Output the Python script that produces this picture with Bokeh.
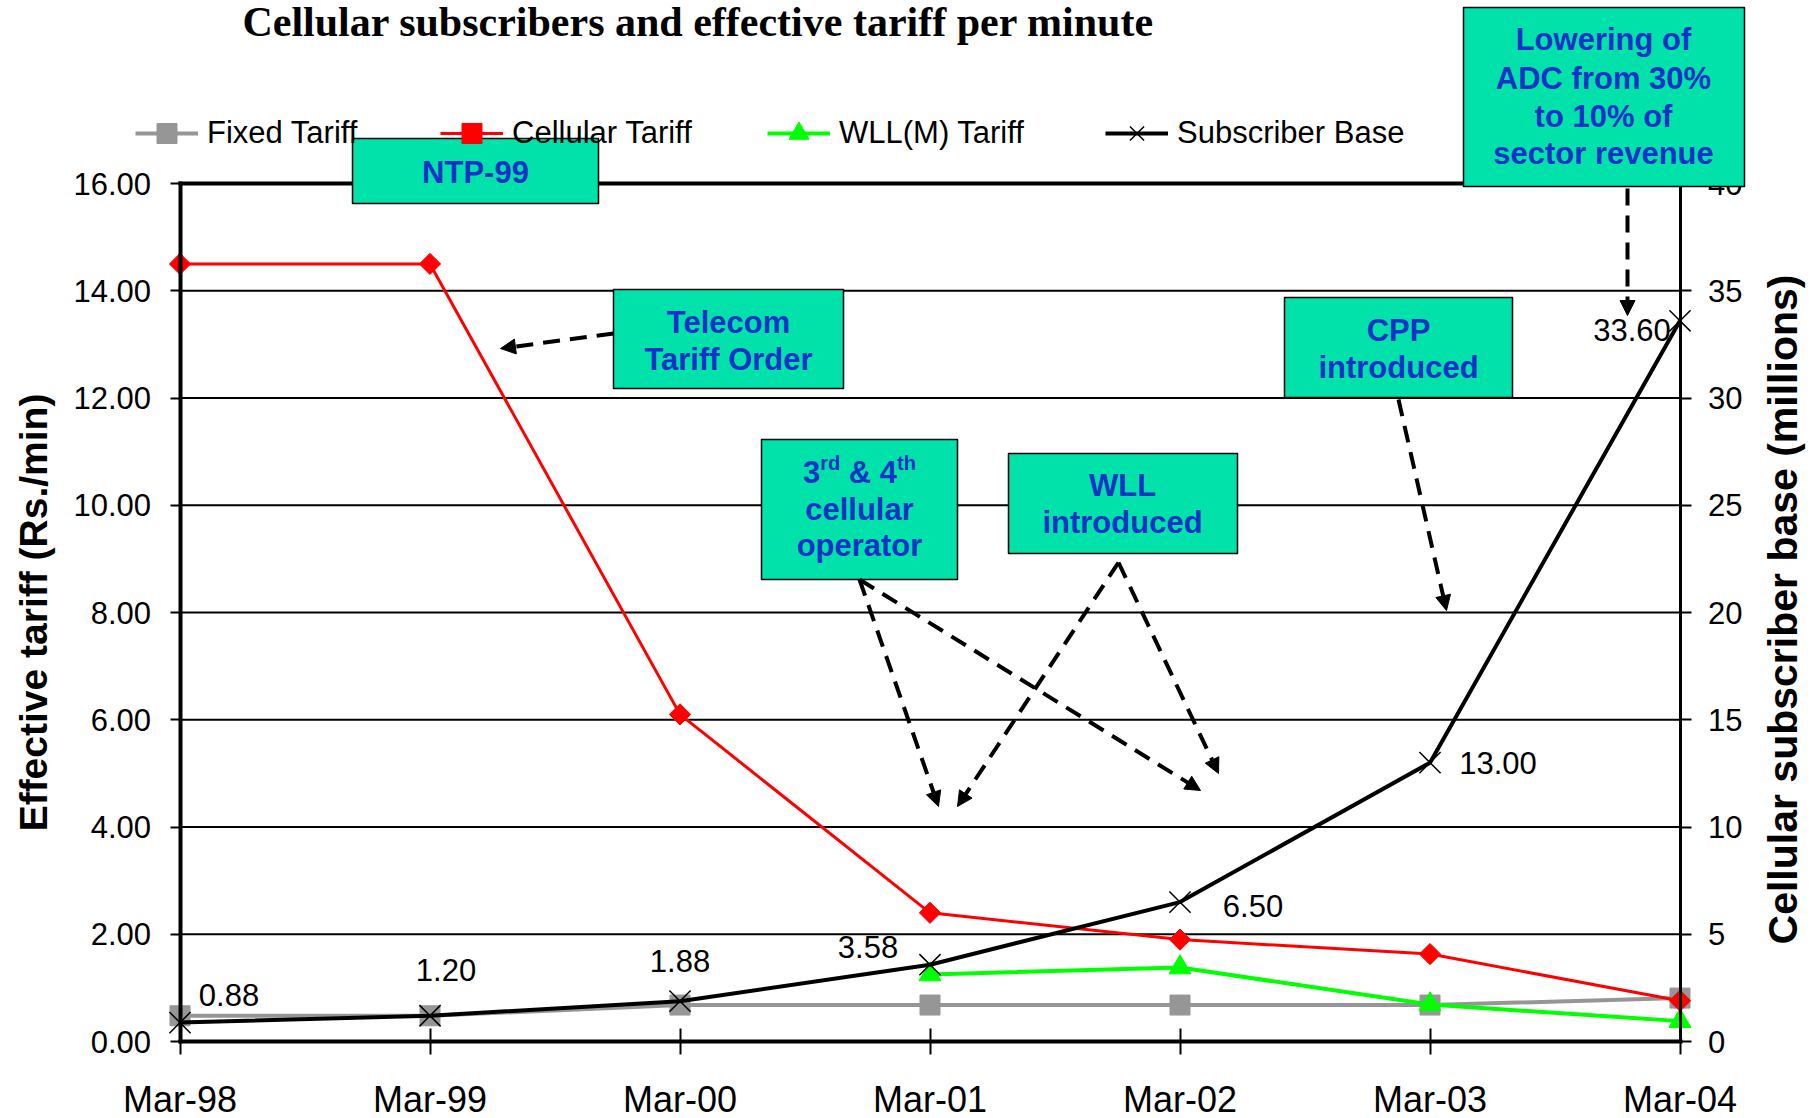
import math
from bokeh.plotting import figure
from bokeh.models import (Range1d, LinearAxis, FixedTicker, NumeralTickFormatter, Legend,
                          LegendItem, BoxAnnotation, Label, Arrow, NormalHead)
from bokeh.core.properties import value
from bokeh.embed import file_html
from bokeh.resources import INLINE

# ---------------- data ----------------
categories = ["Mar-98", "Mar-99", "Mar-00", "Mar-01", "Mar-02", "Mar-03", "Mar-04"]
fixed_tariff = [0.48, 0.48, 0.68, 0.68, 0.68, 0.68, 0.81]
cellular_tariff = [14.5, 14.5, 6.1, 2.4, 1.9, 1.63, 0.76]
wll_categories = ["Mar-01", "Mar-02", "Mar-03", "Mar-04"]
wll_tariff = [1.25, 1.38, 0.69, 0.38]
subscriber_base = [0.88, 1.20, 1.88, 3.58, 6.50, 13.00, 33.60]
subscriber_labels = ["0.88", "1.20", "1.88", "3.58", "6.50", "13.00", "33.60"]
left_ticks = [0, 2, 4, 6, 8, 10, 12, 14, 16]
right_ticks = [0, 5, 10, 15, 20, 25, 30, 35, 40]

# ---------------- layout helpers (pixel -> data) ----------------
W, H = 1815, 1118
X0PX, XSTEP = 179.5, 250.0        # pixel of first category, pixels per category
Y0PX, YSTEP = 1041.0, 53.625      # pixel of tariff 0, pixels per tariff unit
RIGHT_FACTOR = right_ticks[-1] / left_ticks[-1]
def xd(px):
    return (px - X0PX) / XSTEP
def yd(py):
    return (Y0PX - py) / YSTEP
def base_y(py, fs):
    # label y so that the rendered alphabetic baseline lands on pixel row py
    return yd(py - 0.36 * fs)

xpos = list(range(len(categories)))
wll_pos = [categories.index(c) for c in wll_categories]
x_first, x_last = xpos[0], xpos[-1]

FONT = "Liberation Sans"
TEAL = "#00E2A9"
BLUE = "#1432C8"

p = figure(width=W, height=H, output_backend="svg", toolbar_location=None, title=None,
           x_range=Range1d(xd(0), xd(W)), y_range=Range1d(yd(H), yd(0)),
           x_axis_location=None, y_axis_location=None,
           min_border_left=0, min_border_right=0, min_border_top=0, min_border_bottom=0,
           background_fill_color="white", border_fill_color="white", outline_line_color=None)
p.xgrid.visible = False
p.ygrid.visible = False
p.extra_y_ranges = {"right": Range1d(yd(H) * RIGHT_FACTOR, yd(0) * RIGHT_FACTOR)}

# axes (all drawn at fixed data locations inside the frame)
yl = LinearAxis(fixed_location=x_first, ticker=FixedTicker(ticks=left_ticks),
                bounds=(left_ticks[0], left_ticks[-1]),
                formatter=NumeralTickFormatter(format="0.00"),
                axis_line_width=4, axis_line_cap="square", major_tick_out=10, major_tick_in=0,
                major_tick_line_width=2, minor_tick_out=0, minor_tick_in=0,
                major_label_standoff=19, major_label_text_font=FONT,
                major_label_text_font_size="31px", major_label_text_color="black")
p.add_layout(yl, "left")

yr = LinearAxis(y_range_name="right", fixed_location=x_last, ticker=FixedTicker(ticks=right_ticks),
                bounds=(right_ticks[0], right_ticks[-1]),
                formatter=NumeralTickFormatter(format="0"),
                axis_line_width=3, axis_line_cap="square", major_tick_out=11, major_tick_in=0,
                major_tick_line_width=2, minor_tick_out=0, minor_tick_in=0,
                major_label_standoff=17, major_label_text_font=FONT,
                major_label_text_font_size="31px", major_label_text_color="black")
p.add_layout(yr, "right")

xb = LinearAxis(fixed_location=left_ticks[0], ticker=FixedTicker(ticks=xpos),
                major_label_overrides={i: c for i, c in enumerate(categories)},
                bounds=(x_first, x_last), axis_line_width=4, axis_line_cap="square",
                major_tick_in=13, major_tick_out=13, major_tick_line_width=2,
                minor_tick_out=0, minor_tick_in=0, major_label_standoff=24,
                major_label_text_font=FONT, major_label_text_font_size="36px",
                major_label_text_color="black")
p.add_layout(xb, "below")

xt = LinearAxis(fixed_location=left_ticks[-1], ticker=FixedTicker(ticks=[]),
                bounds=(x_first, x_last), axis_line_width=4,
                axis_line_cap="square", major_tick_out=0, major_tick_in=0,
                minor_tick_out=0, minor_tick_in=0, major_label_text_font_size="0px")
p.add_layout(xt, "above")

# horizontal grid lines between the two axes
grid_vals = left_ticks[1:-1]
p.segment(x0=[x_first] * len(grid_vals), x1=[x_last] * len(grid_vals), y0=grid_vals, y1=grid_vals,
          line_color="black", line_width=2)

# series
r_fixed_l = p.line(xpos, fixed_tariff, line_color="#969696", line_width=4)
r_fixed_m = p.scatter(xpos, fixed_tariff, marker="square", size=20,
                      fill_color="#969696", line_color="#969696")
r_wll_l = p.line(wll_pos, wll_tariff, line_color="#00FF00", line_width=4)
r_wll_m = p.scatter(wll_pos, wll_tariff, marker="triangle", size=22,
                    fill_color="#00FF00", line_color="#00FF00")
r_cell_l = p.line(xpos, cellular_tariff, line_color="#FF0000", line_width=3)
r_cell_m = p.scatter(xpos, cellular_tariff, marker="square", angle=math.pi / 4, size=15,
                     fill_color="#FF0000", line_color="#FF0000")
r_sub_l = p.line(xpos, subscriber_base, y_range_name="right", line_color="black", line_width=4)
r_sub_m = p.scatter(xpos, subscriber_base, y_range_name="right", marker="x", size=30,
                    line_color="black", line_width=1.5)

# data labels for subscriber base
label_dx = [49, 16, 0, -62, 73, 68, -48]
label_dy = [-28, -46, -40, -18, 4, 0, 9]
p.text(x=xpos, y=subscriber_base, text=subscriber_labels, y_range_name="right",
       x_offset=label_dx, y_offset=label_dy, text_align="center", text_baseline="middle",
       text_font=value(FONT), text_font_size="31px", text_color="black")

# legends (one per item so each sits at its own place)
legend_specs = [("Fixed Tariff", [r_fixed_l, r_fixed_m], 135),
                ("Cellular Tariff", [r_cell_l, r_cell_m], 440),
                ("WLL(M) Tariff", [r_wll_l, r_wll_m], 767),
                ("Subscriber Base", [r_sub_l, r_sub_m], 1105)]
legend_center_y = 133
for lab, rends, gx in legend_specs:
    lg = Legend(items=[LegendItem(label=lab, renderers=rends)],
                location=(gx, H - legend_center_y - 25),
                orientation="horizontal", padding=0, margin=0, spacing=0,
                glyph_width=63, glyph_height=50, label_height=50, label_standoff=9,
                label_text_font=FONT, label_text_font_size="31px", label_text_color="black",
                border_line_alpha=0, background_fill_alpha=0)
    p.add_layout(lg)

# annotation boxes: (left, top, right, bottom) in pixels, centre x, [(text, baseline)]
BOX_FS = 31
boxes = [
    ((352, 138, 598, 203), 475, [("NTP-99", 183)]),
    ((613, 289, 843, 388), 728, [("Telecom", 333), ("Tariff Order", 370)]),
    ((761, 439, 957, 579), 859, [("cellular", 520), ("operator", 556)]),
    ((1008, 453, 1237, 553), 1122, [("WLL", 496), ("introduced", 533)]),
    ((1284, 297, 1512, 397), 1398, [("CPP", 341), ("introduced", 378)]),
    ((1463, 7, 1744, 186), 1603, [("Lowering of", 50), ("ADC from 30%", 89),
                                  ("to 10% of", 127), ("sector revenue", 164)]),
]
for (l, t, r, b), cx, lines in boxes:
    p.add_layout(BoxAnnotation(left=xd(l), right=xd(r), top=yd(t), bottom=yd(b),
                               fill_color=TEAL, fill_alpha=1.0,
                               line_color="black", line_width=1.5, line_alpha=1.0))
    for txt, base in lines:
        p.add_layout(Label(x=xd(cx), y=base_y(base, BOX_FS), text=txt, text_align="center",
                           text_baseline="alphabetic", text_font=FONT,
                           text_font_style="bold", text_font_size=f"{BOX_FS}px", text_color=BLUE))

# "3rd & 4th" with superscripts, each piece placed separately
sup_parts = [("3", 31, 0, 0.556), ("rd", 20, -13, 1.0), ("", 31, 0, 0.278),
             ("&", 31, 0, 0.722), ("", 31, 0, 0.278), ("4", 31, 0, 0.556), ("th", 20, -13, 0.944)]
total = sum(em * fs for _, fs, _, em in sup_parts)
cur = 859 - total / 2
for t, fs, lift, em in sup_parts:
    if t:
        p.add_layout(Label(x=xd(cur), y=base_y(483 + lift, fs), text=t, text_align="left",
                           text_baseline="alphabetic", text_font=FONT, text_font_style="bold",
                           text_font_size=f"{fs}px", text_color=BLUE))
    cur += em * fs

# dashed arrows (pixel start -> pixel end)
arrows = [
    ((613, 333), (500, 348)),
    ((859, 579), (938, 806)),
    ((859, 579), (1200, 790)),
    ((1118, 562), (957, 806)),
    ((1118, 562), (1218, 773)),
    ((1398, 399), (1446, 610)),
    ((1627, 188), (1627, 315)),
]
for (sx, sy), (ex, ey) in arrows:
    p.add_layout(Arrow(x_start=xd(sx), y_start=yd(sy), x_end=xd(ex), y_end=yd(ey),
                       line_color="black", line_width=4, line_dash="17 10",
                       end=NormalHead(size=15, fill_color="black", line_color="black",
                                      line_width=1)))

# titles
p.add_layout(Label(x=xd(698), y=base_y(37, 42), text="Cellular subscribers and effective tariff per minute",
                   text_align="center", text_baseline="alphabetic", text_font="Liberation Serif",
                   text_font_style="bold", text_font_size="42px", text_color="black"))
p.add_layout(Label(x=xd(33), y=yd(612), text="Effective tariff (Rs./min)", angle=math.pi / 2,
                   text_align="center", text_baseline="middle", text_font=FONT,
                   text_font_style="bold", text_font_size="39px", text_color="black"))
p.add_layout(Label(x=xd(1782), y=yd(609), text="Cellular subscriber base (millions)",
                   angle=math.pi / 2, text_align="center", text_baseline="middle",
                   text_font=FONT, text_font_style="bold", text_font_size="41px",
                   text_color="black"))

open("out.html", "w").write(file_html(p, INLINE))
